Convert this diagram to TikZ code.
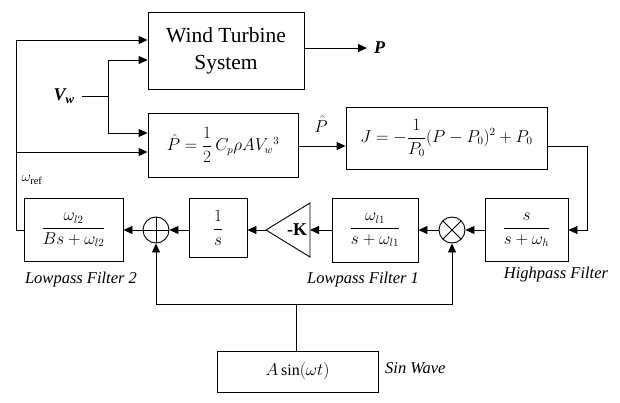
\documentclass[tikz,border=0pt]{standalone}
\usepackage{amsmath}
\usepackage{fontspec}
\setmainfont{Liberation Serif}
\usetikzlibrary{arrows.meta}
\begin{document}
\begin{tikzpicture}[x=1pt,y=-1pt,
  blk/.style={draw,line width=0.9pt,inner sep=0pt,align=center,font=\fontsize{16}{18}\selectfont},
  sumc/.style={draw,circle,line width=0.9pt,minimum size=26pt,inner sep=0pt},
  arr/.style={line width=0.9pt,-{Triangle[length=9pt,width=8pt]}},
  ln/.style={line width=0.9pt},
  lab/.style={font=\fontsize{16.5}{18}\selectfont\itshape,inner sep=0pt}]
\useasboundingbox (0,0) rectangle (620,403);
% blocks
\node[blk,minimum width=156pt,minimum height=77pt,font=\fontsize{21.5}{27}\selectfont] (wt) at (226,50.5) {Wind Turbine\\System};
\node[blk,minimum width=150pt,minimum height=64pt] (ph) at (223,145) {$\hat{P}=\dfrac{1}{2}\,C_p\rho A V_w{}^3$};
\node[blk,minimum width=201pt,minimum height=62pt] (jb) at (446.5,138) {$J=-\dfrac{1}{P_0}(P-P_0)^2+P_0$};
\node[blk,minimum width=83pt,minimum height=63pt] (hp) at (526.5,230) {$\dfrac{s}{s+\omega_h}$};
\node[sumc] (mu) at (452,230) {};
\draw[ln] ([shift={(-9.2,-9.2)}]mu.center) -- ([shift={(9.2,9.2)}]mu.center);
\draw[ln] ([shift={(-9.2,9.2)}]mu.center) -- ([shift={(9.2,-9.2)}]mu.center);
\node[blk,minimum width=86pt,minimum height=64pt] (lp1) at (375,230) {$\dfrac{\omega_{l1}}{s+\omega_{l1}}$};
% gain triangle
\coordinate (gR) at (310,230);
\coordinate (gL) at (266,230);
\draw[ln] (gL) -- (310,203) -- (310,257) -- cycle;
\node[font=\fontsize{18}{20}\selectfont\bfseries,inner sep=0pt] (gk) at (297,230) {-K};
\node[blk,minimum width=58pt,minimum height=59pt] (in) at (218,228) {$\dfrac{1}{s}$};
\node[sumc] (sm) at (156,230) {};
\draw[ln] (sm.north) -- (sm.south);
\draw[ln] (sm.west) -- (sm.east);
\node[blk,minimum width=99pt,minimum height=63pt] (lp2) at (73.5,230) {$\dfrac{\omega_{l2}}{Bs+\omega_{l2}}$};
\node[blk,minimum width=161pt,minimum height=41pt] (sw) at (297.5,371.5) {$A\sin(\omega t)$};
% labels
\node[lab] (l2) at (81,280) {Lowpass Filter 2};
\node[lab] (l1) at (363,280) {Lowpass Filter 1};
\node[lab] (lh) at (556,275) {Highpass Filter};
\node[lab,anchor=west] (ls) at (385,368) {Sin Wave};
\node[font=\fontsize{18}{20}\selectfont\bfseries\itshape,inner sep=0pt] (vw) at (64,96) {V\textsubscript{w}};
\node[font=\fontsize{15}{17}\selectfont,inner sep=0pt] (wr) at (32,180) {$\omega_{\mathrm{ref}}$};
\node[font=\fontsize{18}{20}\selectfont\bfseries\itshape,inner sep=0pt,anchor=west] (pout) at (374,48) {P};
\node[font=\fontsize{16}{18}\selectfont,inner sep=0pt] (phl) at (321,124) {$\hat{P}$};
% top connections
\coordinate (pend) at (367,48);
\draw[arr] (wt.east|-pend) -- (pend);
\coordinate (vb) at (108,96);
\draw[ln] (82,96) -- (vb);
\draw[arr] (vb) |- (wt.west|-0,60);
\draw[arr] (vb) |- (ph.west|-0,133);
\coordinate (lt) at (16,40);
\draw[arr] (lp2.west) -| (lt) -- (wt.west|-lt);
\draw[arr] (16,152) -- (ph.west|-0,152);
\draw[arr] (ph.east|-0,146) -- (jb.west|-0,146);
\draw[arr] (jb.east|-0,146) -| (587,190) |- (hp.east);
% lower row
\draw[arr] (hp.west) -- (mu.east);
\draw[arr] (mu.west) -- (lp1.east);
\draw[arr] (lp1.west) -- (gR);
\draw[arr] (gL) -- (in.east|-gL);
\draw[arr] (in.west|-sm) -- (sm.east);
\draw[arr] (sm.west) -- (lp2.east);
% sine
\coordinate (sj) at (296,304);
\draw[ln] (sw.north-|sj) -- (sj);
\draw[arr] (sj) -| (sm.south);
\draw[arr] (sj) -| (mu.south);
\end{tikzpicture}
\end{document}
